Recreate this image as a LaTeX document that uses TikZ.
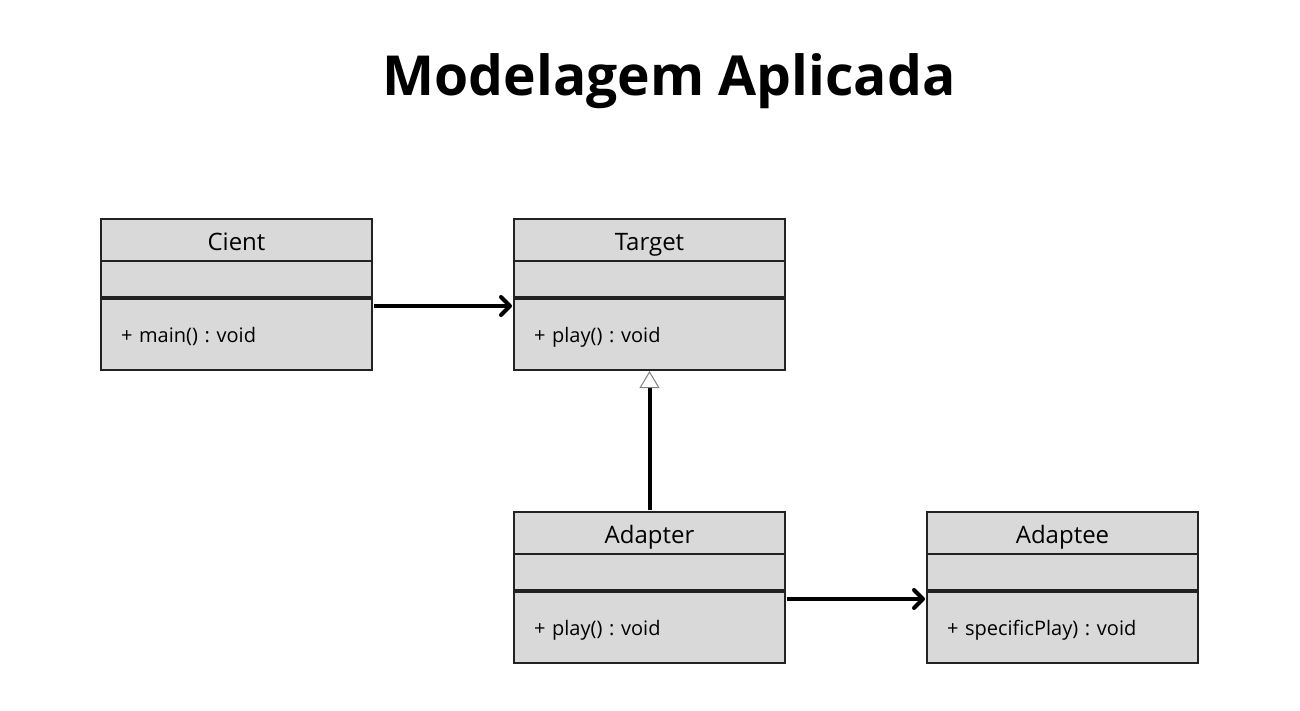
\documentclass[tikz,border=0pt]{standalone}
\usepackage{fontspec}
\setmainfont{Open Sans}
\usetikzlibrary{positioning,arrows.meta}

\definecolor{boxgray}{HTML}{D9D9D9}
\definecolor{edgegray}{HTML}{222222}

\begin{document}
\frenchspacing
\begin{tikzpicture}[x=0.5pt,y=-0.5pt,
    namebox/.style={draw=edgegray, line width=0.8pt, fill=boxgray, outer sep=0pt, minimum width=135.5pt, minimum height=21pt, inner sep=0pt, text height=10.6pt, text depth=0.6pt, font=\fontsize{12}{14}\selectfont},
    attrbox/.style={draw=edgegray, line width=0.8pt, fill=boxgray, outer sep=0pt, minimum width=135.5pt, minimum height=18pt, inner sep=0pt},
    methbox/.style={draw=edgegray, line width=0.8pt, fill=boxgray, outer sep=0pt, text width=115.5pt, inner xsep=10pt, inner ysep=0pt, minimum height=35.5pt, text height=8pt, text depth=0pt, align=left, font=\fontsize{10}{12}\selectfont},
    assoc/.style={line width=2pt, -{Straight Barb[length=4.5pt,width=9pt,round]}},
    realize/.style={line width=2pt, -{Triangle[length=8.5pt,width=10pt,line width=0.5pt,fill=white,color=gray]}}]

\useasboundingbox (0,0) rectangle (1300,711);

\node[font=\fontsize{27.6}{32}\selectfont\bfseries] (title) at (669,81) {Modelagem Aplicada};

% Cient
\node[namebox, anchor=north west] (client) at (101,219) {Cient};
\node[attrbox, below=0pt of client] (client-attr) {};
\node[methbox, below=1pt of client-attr] (client-meth) {+ main() : void};

% Target
\node[namebox, anchor=north west] (target) at (514,219) {Target};
\node[attrbox, below=0pt of target] (target-attr) {};
\node[methbox, below=1pt of target-attr] (target-meth) {+ play() : void};

% Adapter
\node[namebox, anchor=north west] (adapter) at (514,512) {Adapter};
\node[attrbox, below=0pt of adapter] (adapter-attr) {};
\node[methbox, below=1pt of adapter-attr] (adapter-meth) {+ play() : void};

% Adaptee
\node[namebox, anchor=north west] (adaptee) at (927,512) {Adaptee};
\node[attrbox, below=0pt of adaptee] (adaptee-attr) {};
\node[methbox, below=1pt of adaptee-attr] (adaptee-meth) {+ specificPlay) : void};

\draw[assoc] ([xshift=1pt,yshift=-3.5pt]client-meth.north east) -- ([xshift=-1pt,yshift=-3.5pt]target-meth.north west);
\draw[assoc] ([xshift=1pt,yshift=-3.5pt]adapter-meth.north east) -- ([xshift=-1pt,yshift=-3.5pt]adaptee-meth.north west);
\draw[realize] ([yshift=1pt]adapter.north) -- ([yshift=-0.5pt]target-meth.south);

\end{tikzpicture}
\end{document}
